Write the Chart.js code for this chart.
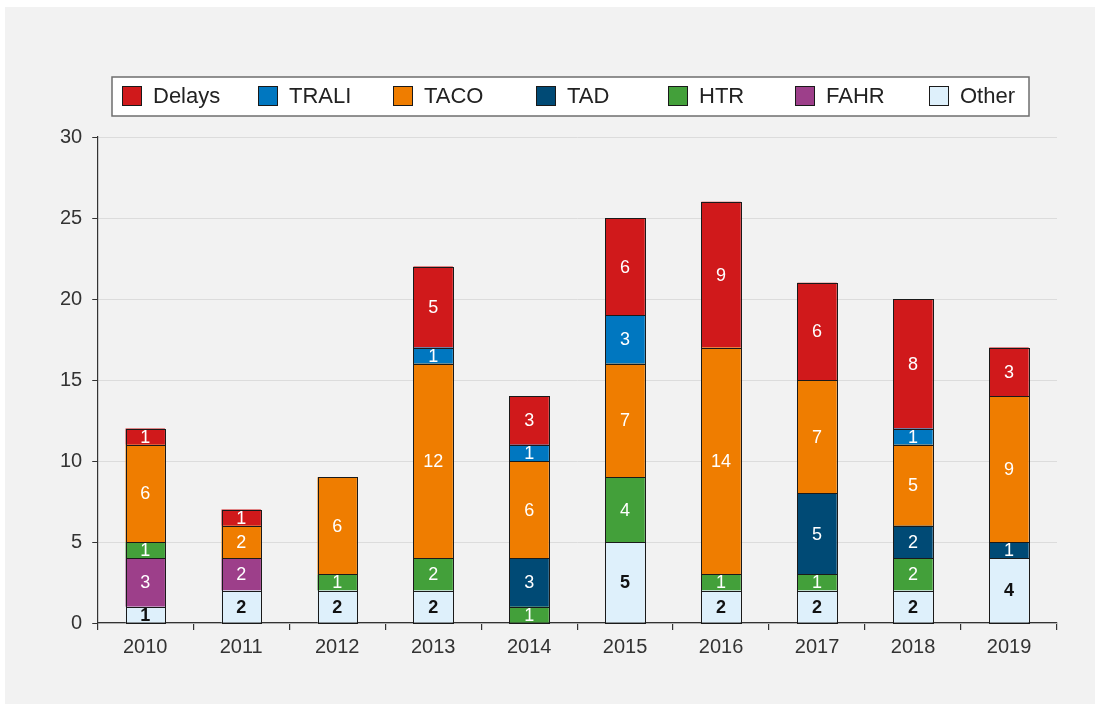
<!DOCTYPE html>
<html>
<head>
<meta charset="utf-8">
<script src="https://cdn.jsdelivr.net/npm/chart.js@4"></script>
<style>
  html, body { margin: 0; padding: 0; background: #ffffff; }
  #wrap { width: 1095px; height: 704px; position: relative; }
</style>
</head>
<body>
<div id="wrap"><canvas id="chart" width="1095" height="704"></canvas></div>
<script>
// Categories and series (stack order bottom -> top)
const years = ["2010", "2011", "2012", "2013", "2014", "2015", "2016", "2017", "2018", "2019"];
const other  = [1, 2, 2, 2, 0, 5, 2, 2, 2, 4];
const fahr   = [3, 2, 0, 0, 0, 0, 0, 0, 0, 0];
const htr    = [1, 0, 1, 2, 1, 4, 1, 1, 2, 0];
const tad    = [0, 0, 0, 0, 3, 0, 0, 5, 2, 1];
const taco   = [6, 2, 6, 12, 6, 7, 14, 7, 5, 9];
const trali  = [0, 0, 0, 1, 1, 3, 0, 0, 1, 0];
const delays = [1, 1, 0, 5, 3, 6, 9, 6, 8, 3];
const yTicks = [0, 5, 10, 15, 20, 25, 30];

// legend order as in the picture
const legendOrder = ["Delays", "TRALI", "TACO", "TAD", "HTR", "FAHR", "Other"];
const legendX = [122, 258, 393, 536, 668, 795, 929];

const FONT = "'Liberation Sans', Arial, sans-serif";

const mk = (label, data, color, textColor, bold) => ({
    label: label,
    data: data,
    backgroundColor: color,
    borderWidth: 0,
    barPercentage: 0.41,
    categoryPercentage: 1.0,
    labelColor: textColor,
    labelBold: bold,
});

const datasets = [
    mk("Other", other, "#def0fb", "#111111", true),
    mk("FAHR", fahr, "#9d3f8a", "#ffffff", false),
    mk("HTR", htr, "#43a03a", "#ffffff", false),
    mk("TAD", tad, "#004a75", "#ffffff", false),
    mk("TACO", taco, "#ef7d00", "#ffffff", false),
    mk("TRALI", trali, "#0077c0", "#ffffff", false),
    mk("Delays", delays, "#d0191b", "#ffffff", false),
];

// gray panel behind everything
const panelPlugin = {
    id: "panel",
    beforeDraw(chart) {
        const ctx = chart.ctx;
        ctx.save();
        ctx.fillStyle = "#f2f2f2";
        ctx.fillRect(5, 7, 1090, 697);
        ctx.restore();
    },
};

// outlines and numbers inside each segment
const labelPlugin = {
    id: "segLabels",
    afterDatasetsDraw(chart) {
        const ctx = chart.ctx;
        ctx.save();
        chart.data.datasets.forEach((ds, i) => {
            const meta = chart.getDatasetMeta(i);
            meta.data.forEach((bar, j) => {
                if (!ds.data[j]) return;
                const left = Math.round(bar.x - bar.width / 2) + 0.5;
                const right = Math.round(bar.x + bar.width / 2) + 0.5;
                const top = Math.round(bar.y) + 0.5;
                const bottom = Math.round(bar.base) + 0.5;
                ctx.strokeStyle = "#1a1a1a";
                ctx.lineWidth = 1;
                ctx.strokeRect(left, top, right - left, bottom - top);
            });
        });
        ctx.textAlign = "center";
        ctx.textBaseline = "middle";
        chart.data.datasets.forEach((ds, i) => {
            const meta = chart.getDatasetMeta(i);
            meta.data.forEach((bar, j) => {
                const v = ds.data[j];
                if (!v) return;
                const y = (bar.y + bar.base) / 2;
                ctx.font = (ds.labelBold ? "bold " : "") + "18px " + FONT;
                ctx.fillStyle = ds.labelColor;
                ctx.fillText(String(v), bar.x, y + 1);
            });
        });
        ctx.restore();
    },
};

// boxed legend at the top
const legendPlugin = {
    id: "boxLegend",
    afterDraw(chart) {
        const ctx = chart.ctx;
        ctx.save();
        ctx.fillStyle = "#ffffff";
        ctx.fillRect(112, 77, 917, 39);
        ctx.strokeStyle = "#6e6e6e";
        ctx.lineWidth = 1.5;
        ctx.strokeRect(112, 77, 917, 39);
        ctx.font = "22px " + FONT;
        ctx.textBaseline = "middle";
        legendOrder.forEach((name, k) => {
            const ds = chart.data.datasets.find(d => d.label === name);
            const x = legendX[k];
            ctx.fillStyle = ds.backgroundColor;
            ctx.fillRect(x, 86, 20, 20);
            ctx.strokeStyle = "#1a1a1a";
            ctx.lineWidth = 1;
            ctx.strokeRect(x + 0.5, 86.5, 19, 19);
            ctx.fillStyle = "#222222";
            ctx.fillText(name, x + 31, 97);
        });
        ctx.restore();
    },
};

new Chart(document.getElementById("chart").getContext("2d"), {
    type: "bar",
    data: { labels: years, datasets: datasets },
    options: {
        responsive: false,
        animation: false,
        layout: { padding: { left: 50, right: 38, top: 137, bottom: 40 } },
        plugins: {
            legend: { display: false },
            tooltip: { enabled: false },
        },
        scales: {
            x: {
                stacked: true,
                offset: true,
                grid: {
                    display: true,
                    offset: true,
                    drawOnChartArea: false,
                    drawTicks: true,
                    tickLength: 7,
                    color: "#333333",
                    lineWidth: 1.2,
                },
                border: { display: true, color: "#333333", width: 1.2 },
                ticks: { color: "#333333", font: { family: FONT, size: 20 }, padding: 5 },
            },
            y: {
                stacked: true,
                min: 0,
                max: 30,
                afterBuildTicks(axis) {
                    axis.ticks = yTicks.map(v => ({ value: v }));
                },
                grid: {
                    color: "#dcdcdc",
                    lineWidth: 1,
                    drawTicks: true,
                    tickLength: 5,
                    tickColor: "#333333",
                },
                border: { display: true, color: "#333333", width: 1.2 },
                ticks: { color: "#333333", font: { family: FONT, size: 20 }, padding: 10 },
            },
        },
    },
    plugins: [panelPlugin, labelPlugin, legendPlugin],
});
</script>
</body>
</html>
